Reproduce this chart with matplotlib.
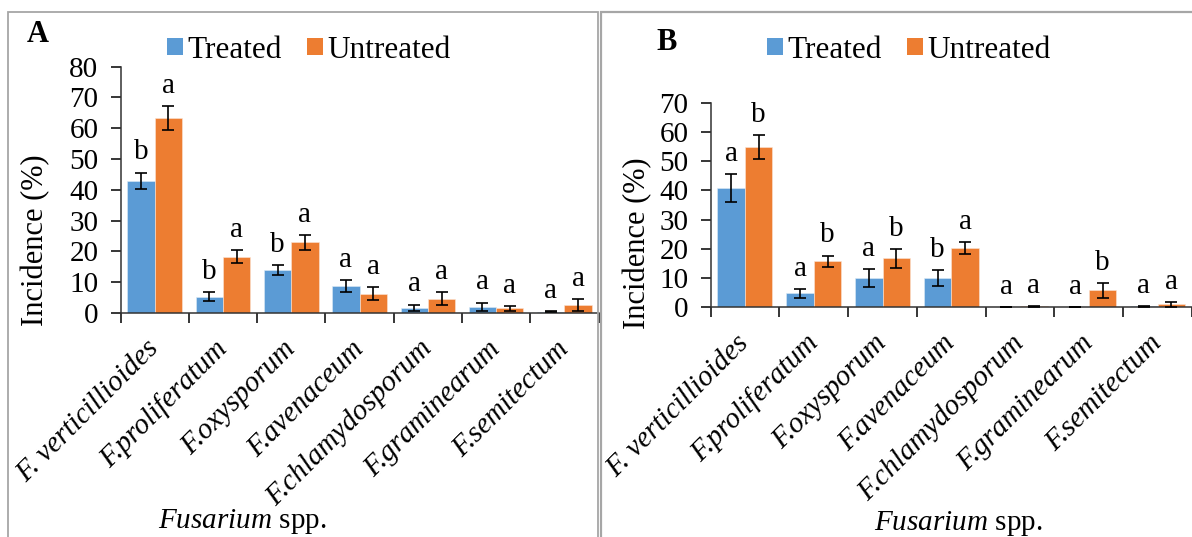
import matplotlib
matplotlib.use("Agg")
import matplotlib.pyplot as plt
from matplotlib.patches import Rectangle, Patch
import numpy as np

plt.rcParams['font.family'] = ['Liberation Serif', 'DejaVu Serif']
plt.rcParams['mathtext.fontset'] = 'custom'
plt.rcParams['mathtext.rm'] = 'Liberation Serif'
plt.rcParams['mathtext.it'] = 'Liberation Serif:italic'

categories = ["F. verticillioides", "F.proliferatum", "F.oxysporum", "F.avenaceum",
              "F.chlamydosporum", "F.graminearum", "F.semitectum"]

# Panel A
a_treated = [42.9, 5.3, 14.0, 8.8, 1.6, 2.0, 0.4]
a_treated_err = [2.7, 1.5, 1.6, 2.0, 1.1, 1.4, 0.2]
a_untreated = [63.3, 18.3, 22.9, 6.2, 4.7, 1.5, 2.7]
a_untreated_err = [4.0, 2.2, 2.4, 2.1, 2.2, 0.8, 1.9]
a_treated_letters = ["b", "b", "b", "a", "a", "a", "a"]
a_untreated_letters = ["a", "a", "a", "a", "a", "a", "a"]

# Panel B
b_treated = [40.8, 4.8, 10.0, 10.1, 0.1, 0.1, 0.3]
b_treated_err = [4.7, 1.5, 3.2, 2.7, 0.1, 0.1, 0.1]
b_untreated = [54.8, 15.8, 16.8, 20.2, 0.3, 5.8, 1.0]
b_untreated_err = [4.0, 1.9, 3.2, 2.0, 0.1, 2.6, 0.9]
b_treated_letters = ["a", "a", "a", "b", "a", "a", "a"]
b_untreated_letters = ["b", "b", "b", "a", "a", "b", "a"]

BLUE = "#5B9BD5"
ORANGE = "#ED7D31"
W, H = 1192, 537

fig = plt.figure(figsize=(W / 100, H / 100), dpi=100)

def fr(x0, y0, x1, y1):
    return [x0 / W, 1 - y1 / H, (x1 - x0) / W, (y1 - y0) / H]

# panel boxes
fig.patches.append(Rectangle((8 / W, -0.1), (597.7 - 8) / W, 1.1 - 11.7 / H,
                             transform=fig.transFigure, fill=False,
                             edgecolor="#A6A6A6", linewidth=1.3))
fig.patches.append(Rectangle((600.7 / W, -0.1), 0.6, 1.1 - 11.7 / H,
                             transform=fig.transFigure, fill=False,
                             edgecolor="#A6A6A6", linewidth=1.6))


def panel(rect, xmax, ymax, tr, tre, un, une, tl, ul):
    ax = fig.add_axes(rect)
    x = np.arange(len(categories))
    w = 0.4
    ax.bar(x - w / 2, tr, w, color=BLUE, edgecolor="#DDEBF7", linewidth=0.4, zorder=2)
    ax.bar(x + w / 2, un, w, color=ORANGE, edgecolor="#FBE5D6", linewidth=0.4, zorder=2)
    ax.errorbar(x - w / 2, tr, yerr=tre, fmt="none", ecolor="black",
                elinewidth=1.2, capsize=4.5, capthick=1.2, zorder=3)
    ax.errorbar(x + w / 2, un, yerr=une, fmt="none", ecolor="black",
                elinewidth=1.2, capsize=4.5, capthick=1.2, zorder=3)
    for xi, v, e, s in zip(x - w / 2, tr, tre, tl):
        ax.annotate(s, (xi, v + e), xytext=(0, 9.5), textcoords="offset points",
                    ha="center", va="baseline", fontsize=21, annotation_clip=False)
    for xi, v, e, s in zip(x + w / 2, un, une, ul):
        ax.annotate(s, (xi, v + e), xytext=(0, 9.5), textcoords="offset points",
                    ha="center", va="baseline", fontsize=21, annotation_clip=False)
    ax.set_xlim(-0.5, xmax)
    ax.set_ylim(0, ymax)
    ax.set_yticks(np.arange(0, ymax + 1, 10))
    ax.set_xticks(x)
    ax.set_xticklabels(categories, rotation=45, ha="right", va="center",
                       rotation_mode="anchor", fontstyle="italic", fontsize=21)
    ax.set_xticks(np.arange(-0.5, len(categories), 1.0), minor=True)
    ax.tick_params(axis="x", which="major", length=0, pad=23)
    ax.tick_params(axis="x", which="minor", length=7, width=1.1, direction="out")
    ax.tick_params(axis="y", length=7, width=1.1, direction="out", labelsize=21, pad=9)
    for s in ["top", "right"]:
        ax.spines[s].set_visible(False)
    for s in ["left", "bottom"]:
        ax.spines[s].set_linewidth(1.1)
        ax.spines[s].set_color("#333333")
    ax.patch.set_alpha(0)
    return ax

axA = panel(fr(120.5, 66.7, 598.6, 313), 6.5, 80,
            a_treated, a_treated_err, a_untreated, a_untreated_err,
            a_treated_letters, a_untreated_letters)
axB = panel(fr(710.6, 102.7, 1192, 307.3), -0.5 + (1192 - 710.6) / 70.7, 70,
            b_treated, b_treated_err, b_untreated, b_untreated_err,
            b_treated_letters, b_untreated_letters)

# y labels
fig.text(36 / W, 1 - 240 / H, "Incidence (%)", rotation=90, ha="center", va="center", fontsize=22)
fig.text(638 / W, 1 - 243 / H, "Incidence (%)", rotation=90, ha="center", va="center", fontsize=22)

# x labels
fig.text(242 / W, 1 - 522 / H, r"$\it{Fusarium}$ spp.", ha="center", va="center", fontsize=21)
fig.text(958 / W, 1 - 524 / H, r"$\it{Fusarium}$ spp.", ha="center", va="center", fontsize=21)

# panel letters
fig.text(38 / W, 1 - 35 / H, "A", fontweight="bold", ha="center", va="center", fontsize=22)
fig.text(667 / W, 1 - 42 / H, "B", fontweight="bold", ha="center", va="center", fontsize=22)

handles = [Patch(facecolor=BLUE), Patch(facecolor=ORANGE)]
for cx, cy in [(309, 50), (909, 50)]:
    fig.legend(handles, ["Treated", "Untreated"], loc="center",
               bbox_to_anchor=(cx / W, 1 - cy / H), ncol=2, frameon=False,
               fontsize=22.5, handlelength=0.5, handleheight=0.5,
               handletextpad=0.15, columnspacing=0.8, borderpad=0)

fig.savefig("out.png", dpi=100)
